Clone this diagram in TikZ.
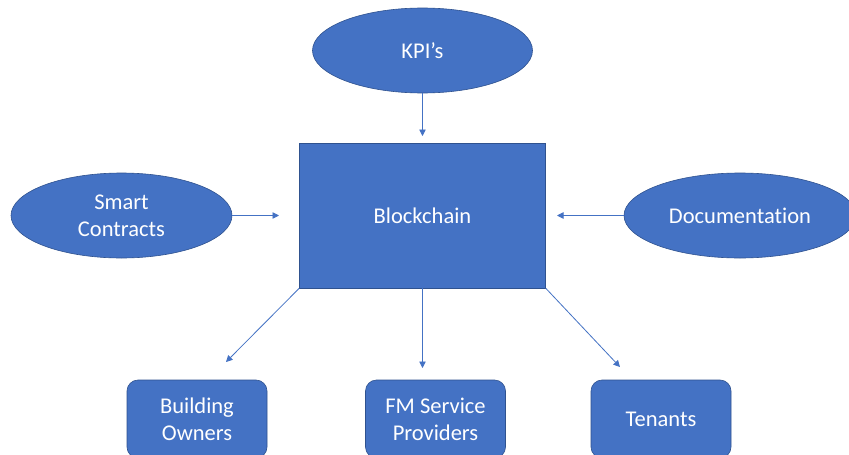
\documentclass[tikz,border=0pt]{standalone}
\usepackage{fontspec}
\setmainfont{Carlito}[Ligatures=NoCommon]
\usetikzlibrary{shapes.geometric,arrows.meta}
\definecolor{obox}{HTML}{4472C4}
\definecolor{oedge}{HTML}{2F528F}
\begin{document}
\begin{tikzpicture}[x=1pt,y=-1pt,
  shapebase/.style={fill=obox,draw=oedge,line width=0.6pt,text=white,
    font=\fontsize{22.5}{27}\selectfont,align=center,inner sep=0pt},
  oval/.style={shapebase,ellipse,minimum width=220pt,minimum height=85pt},
  centerbox/.style={shapebase,rectangle,minimum width=246pt,minimum height=145pt},
  rbox/.style={shapebase,rectangle,rounded corners=11pt,minimum width=140pt,minimum height=78pt},
  conn/.style={draw=obox,line width=0.8pt,-{Triangle[length=6.5pt,width=6.5pt]}}
]
\useasboundingbox (0,0) rectangle (849,455);
\clip (0,0) rectangle (849,455);
\fill[white] (0,0) rectangle (849,455);

\node[oval] (kpi) at (422.5,50.5) {KPI’s};
\node[centerbox] (bc) at (422.5,215.5) {Blockchain};
\node[oval,minimum width=221pt] (sc) at (121.5,215.5) {Smart\\Contracts};
\node[oval,minimum width=232pt] (doc) at (740,215.5) {Documentation};

\node[rbox] (bo) at (197,419) {Building\\Owners};
\node[rbox] (fm) at (435.5,419) {FM Service\\Providers};
\node[rbox] (tn) at (661,419) {Tenants};

\coordinate (kpiend) at (422.5,136);
\coordinate (scend) at (279,215.5);
\coordinate (docend) at (557,215.5);
\coordinate (boend) at (226,362);
\coordinate (fmend) at (422.5,368);
\coordinate (tnend) at (620,367);

\draw[conn] (kpi.south) -- (kpiend);
\draw[conn] (sc.east) -- (scend);
\draw[conn] (doc.west) -- (docend);
\draw[conn] (bc.south west) -- (boend);
\draw[conn] (bc.south) -- (fmend);
\draw[conn] (bc.south east) -- (tnend);
\end{tikzpicture}
\end{document}
